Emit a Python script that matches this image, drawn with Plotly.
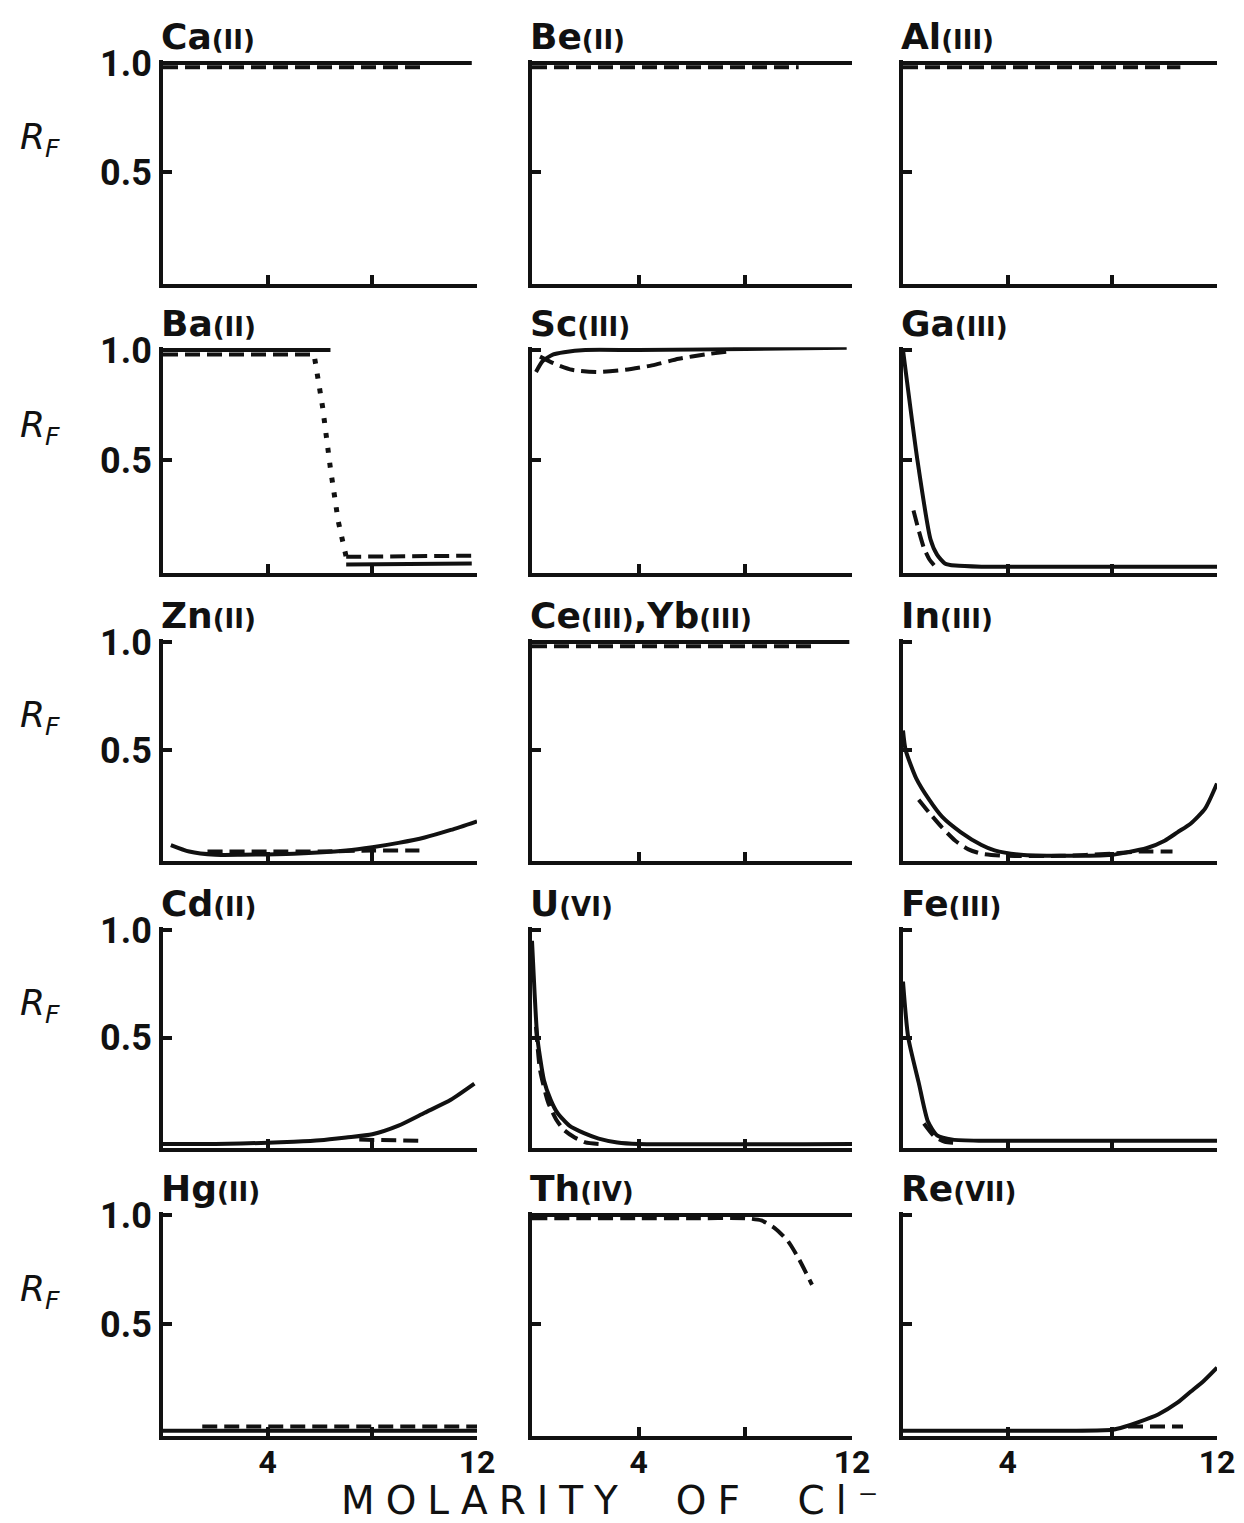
import plotly.graph_objects as go

W, H = 1244, 1523

# ---------------- data ----------------
# Ca(II)
ca_solid_x = [0, 11.8]
ca_solid_y = [1.0, 1.0]
ca_dash_x = [0, 10.0]
ca_dash_y = [0.98, 0.98]
# Be(II)
be_solid_x = [0, 12]
be_solid_y = [1.0, 1.0]
be_dash_x = [0, 10.0]
be_dash_y = [0.98, 0.98]
# Al(III)
al_solid_x = [0, 12]
al_solid_y = [1.0, 1.0]
al_dash_x = [0, 10.6]
al_dash_y = [0.98, 0.98]
# Ba(II)
ba_solid1_x = [0, 6.4]
ba_solid1_y = [1.0, 1.0]
ba_dash1_x = [0, 5.7]
ba_dash1_y = [0.98, 0.98]
ba_dot_x = [5.8, 6.1, 6.4, 6.7, 7.0]
ba_dot_y = [0.96, 0.74, 0.46, 0.22, 0.06]
ba_solid2_x = [7.0, 11.8]
ba_solid2_y = [0.025, 0.03]
ba_dash2_x = [7.0, 11.8]
ba_dash2_y = [0.06, 0.065]
# Sc(III)
sc_solid_x = [0.15, 0.4, 0.8, 1.2, 2, 4, 8, 11.8]
sc_solid_y = [0.90, 0.95, 0.98, 0.99, 1.0, 1.0, 1.005, 1.01]
sc_dash_x = [0.3, 0.8, 1.5, 2.5, 3.5, 4.5, 5.5, 6.5, 7.5]
sc_dash_y = [0.97, 0.94, 0.91, 0.90, 0.91, 0.93, 0.96, 0.98, 0.995]
# Ga(III)
ga_solid_x = [0, 0.55, 1.05, 1.3, 1.6, 2, 3, 12]
ga_solid_y = [1.0, 0.5, 0.14, 0.07, 0.03, 0.02, 0.015, 0.015]
ga_dash_x = [0.4, 0.6, 0.8, 1.0, 1.2]
ga_dash_y = [0.27, 0.18, 0.10, 0.05, 0.02]
# Zn(II)
zn_solid_x = [0.3, 1, 2, 3, 5, 7, 8, 9, 10, 11, 12]
zn_solid_y = [0.06, 0.03, 0.015, 0.015, 0.02, 0.035, 0.05, 0.07, 0.095, 0.13, 0.17]
zn_dash_x = [1.7, 4, 6, 8, 9.8]
zn_dash_y = [0.03, 0.03, 0.03, 0.035, 0.035]
# Ce(III), Yb(III)
ce_solid_x = [0, 11.9]
ce_solid_y = [1.0, 1.0]
ce_dash_x = [0, 10.6]
ce_dash_y = [0.98, 0.98]
# In(III)
in_solid_x = [0, 0.1, 0.5, 1, 1.5, 2.2, 3, 3.5, 4.5, 6, 8, 8.5, 9.3, 10, 10.5, 11, 11.55, 12]
in_solid_y = [0.59, 0.5, 0.37, 0.27, 0.19, 0.12, 0.06, 0.035, 0.015, 0.01, 0.015, 0.025, 0.045,
              0.08, 0.12, 0.16, 0.23, 0.345]
in_dash_x = [0.6, 1, 1.5, 2, 2.5, 3, 4, 6, 8, 9, 10.3]
in_dash_y = [0.27, 0.21, 0.14, 0.08, 0.04, 0.02, 0.01, 0.01, 0.02, 0.03, 0.03]
# Cd(II)
cd_solid_x = [0, 2, 4, 5, 6, 7, 8, 9, 10, 11, 11.9]
cd_solid_y = [0.005, 0.005, 0.01, 0.015, 0.022, 0.035, 0.05, 0.09, 0.15, 0.21, 0.285]
cd_dash_x = [7.5, 9.8]
cd_dash_y = [0.025, 0.02]
# U(VI)
u_solid_x = [0, 0.1, 0.2, 0.45, 0.7, 0.95, 1.4, 1.95, 2.5, 3.2, 4, 12]
u_solid_y = [0.95, 0.7, 0.5, 0.3, 0.21, 0.15, 0.09, 0.055, 0.03, 0.012, 0.005, 0.005]
u_dash_x = [0.15, 0.3, 0.6, 0.9, 1.2, 1.6, 2.0, 2.5]
u_dash_y = [0.55, 0.35, 0.2, 0.12, 0.07, 0.035, 0.012, 0.005]
# Fe(III)
fe_solid_x = [0, 0.2, 0.6, 0.95, 1.3, 1.9, 3, 6, 9, 12]
fe_solid_y = [0.76, 0.5, 0.29, 0.11, 0.045, 0.025, 0.02, 0.02, 0.02, 0.02]
fe_dash_x = [0.8, 1.2, 1.6, 2.0]
fe_dash_y = [0.10, 0.04, 0.015, 0.01]
# Hg(II)
hg_solid_x = [0, 12]
hg_solid_y = [0.01, 0.01]
hg_dash_x = [1.5, 12]
hg_dash_y = [0.03, 0.03]
# Th(IV)
th_solid_x = [0, 12]
th_solid_y = [1.0, 1.0]
th_dash_x = [0, 2, 4, 6, 8, 8.6, 9.1, 9.6, 10, 10.5]
th_dash_y = [0.985, 0.985, 0.985, 0.985, 0.985, 0.975, 0.94, 0.88, 0.8, 0.68]
# Re(VII)
re_solid_x = [0, 4, 8, 8.5, 9, 9.75, 10.5, 11, 11.5, 12]
re_solid_y = [0.01, 0.01, 0.015, 0.03, 0.05, 0.085, 0.14, 0.19, 0.24, 0.3]
re_dash_x = [8.6, 10.7]
re_dash_y = [0.03, 0.03]

# ticks / tick labels
x_tickvals = [4, 12]
x_ticktext = ["4", "12"]
x_minor_tickvals = [8]
y_tickvals = [0.5, 1.0]
y_ticktext = ["0.5", "1.0"]

S, D, P = "solid", "dash", "dot"
panels = [
    ("Ca", "(II)", [(ca_solid_x, ca_solid_y, S), (ca_dash_x, ca_dash_y, D)]),
    ("Be", "(II)", [(be_solid_x, be_solid_y, S), (be_dash_x, be_dash_y, D)]),
    ("Al", "(III)", [(al_solid_x, al_solid_y, S), (al_dash_x, al_dash_y, D)]),
    ("Ba", "(II)", [(ba_solid1_x, ba_solid1_y, S), (ba_dash1_x, ba_dash1_y, D),
                    (ba_dot_x, ba_dot_y, P), (ba_solid2_x, ba_solid2_y, S),
                    (ba_dash2_x, ba_dash2_y, D)]),
    ("Sc", "(III)", [(sc_solid_x, sc_solid_y, S), (sc_dash_x, sc_dash_y, D)]),
    ("Ga", "(III)", [(ga_solid_x, ga_solid_y, S), (ga_dash_x, ga_dash_y, D)]),
    ("Zn", "(II)", [(zn_solid_x, zn_solid_y, S), (zn_dash_x, zn_dash_y, D)]),
    ("Ce(III),Yb", "(III)", [(ce_solid_x, ce_solid_y, S), (ce_dash_x, ce_dash_y, D)]),
    ("In", "(III)", [(in_solid_x, in_solid_y, S), (in_dash_x, in_dash_y, D)]),
    ("Cd", "(II)", [(cd_solid_x, cd_solid_y, S), (cd_dash_x, cd_dash_y, D)]),
    ("U", "(VI)", [(u_solid_x, u_solid_y, S), (u_dash_x, u_dash_y, D)]),
    ("Fe", "(III)", [(fe_solid_x, fe_solid_y, S), (fe_dash_x, fe_dash_y, D)]),
    ("Hg", "(II)", [(hg_solid_x, hg_solid_y, S), (hg_dash_x, hg_dash_y, D)]),
    ("Th", "(IV)", [(th_solid_x, th_solid_y, S), (th_dash_x, th_dash_y, D)]),
    ("Re", "(VII)", [(re_solid_x, re_solid_y, S), (re_dash_x, re_dash_y, D)]),
]

# ---------------- layout geometry (pixels of the 1244x1523 window) ----------------
COLS = [(163, 477), (532, 852), (903, 1217)]
ROWS = [(63, 281), (350, 570), (642, 858), (930, 1145), (1215, 1433)]
YLO, YHI = -0.012, 1.012
INK = "#111111"
BOLD = "Roboto, 'DejaVu Sans', sans-serif"
TITLEF = "'DejaVu Sans', sans-serif"
dash_styles = {S: "solid", D: "15px,7px", P: "5px,10px"}


def pxx(p):
    return p / W


def pxy(p):
    return 1 - p / H


fig = go.Figure()
layout = dict(
    width=W, height=H, autosize=False, margin=dict(l=0, r=0, t=0, b=0, pad=0),
    paper_bgcolor="white", plot_bgcolor="white", showlegend=False,
    template="none",
)
annotations = []

for i, (sym, ox, traces) in enumerate(panels):
    r, c = divmod(i, 3)
    n = i + 1
    sfx = "" if n == 1 else str(n)
    x0, x1 = COLS[c]
    top, bot = ROWS[r]
    unit = bot - top
    dtop = top - (YHI - 1) * unit
    dbot = bot + (0 - YLO) * unit
    for xs, ys, st in traces:
        fig.add_trace(go.Scatter(
            x=xs, y=ys, mode="lines", xaxis="x" + sfx, yaxis="y" + sfx,
            line=dict(color=INK, width=4 if st != P else 5, dash=dash_styles[st],
                      shape="spline" if len(xs) > 2 and st != P else "linear", smoothing=0.6),
            hoverinfo="skip",
        ))
    layout["xaxis" + sfx] = dict(
        domain=[pxx(x0), pxx(x1)], range=[0, 12], anchor="y" + sfx, automargin=False,
        showline=True, linewidth=4, linecolor=INK, mirror=False,
        ticks="inside", ticklen=9, tickwidth=4, tickcolor=INK,
        tickvals=x_tickvals, ticktext=x_ticktext, ticklabelstandoff=-5,
        minor=dict(tickvals=x_minor_tickvals, ticks="inside", ticklen=9, tickwidth=4,
                   tickcolor=INK, showgrid=False),
        showticklabels=(r == 4), showgrid=False, zeroline=False,
        tickfont=dict(family=BOLD, size=32, color=INK, weight="bold"),
        fixedrange=True,
    )
    layout["yaxis" + sfx] = dict(
        domain=[pxy(dbot), pxy(dtop)], range=[YLO, YHI],
        anchor="x" + sfx, automargin=False,
        showline=True, linewidth=4, linecolor=INK,
        ticks="inside", ticklen=9, tickwidth=4, tickcolor=INK,
        tickvals=y_tickvals, ticktext=y_ticktext,
        showticklabels=(c == 0), showgrid=False, zeroline=False,
        tickfont=dict(family=BOLD, size=36, color=INK, weight="bold"),
        fixedrange=True,
    )
    # panel title
    small = "<span style='font-size:26px'><b>%s</b></span>"
    if "," in sym:
        text = "<b>Ce</b>" + small % "(III)" + "<b>,Yb</b>" + small % "(III)"
    else:
        text = f"<b>{sym}</b>" + small % ox
    annotations.append(dict(
        xref="paper", yref="paper", x=pxx(x0 - 4), y=pxy(top - 27),
        xanchor="left", yanchor="middle", showarrow=False,
        text=text, font=dict(family=TITLEF, size=36, color=INK),
    ))
    if c == 0:
        annotations.append(dict(
            xref="paper", yref="paper", x=pxx(40), y=pxy(top + 0.35 * unit),
            xanchor="center", yanchor="middle", showarrow=False,
            text="<i>R</i><sub><i>F</i></sub>",
            font=dict(family="'DejaVu Sans', sans-serif", size=36, color=INK),
        ))

annotations.append(dict(
    xref="paper", yref="paper", x=pxx(615), y=pxy(1500),
    xanchor="center", yanchor="middle", showarrow=False,
    text="<span style='letter-spacing:11px'>MOLARITY  OF  Cl\u207b</span>",
    font=dict(family="'DejaVu Sans', sans-serif", size=39, color=INK),
))
layout["annotations"] = annotations
fig.update_layout(**layout)
fig.write_html(
    "out.html", config={"responsive": False, "displayModeBar": False},
    post_script="document.body.style.margin='0px';document.body.style.overflow='hidden';",
)
